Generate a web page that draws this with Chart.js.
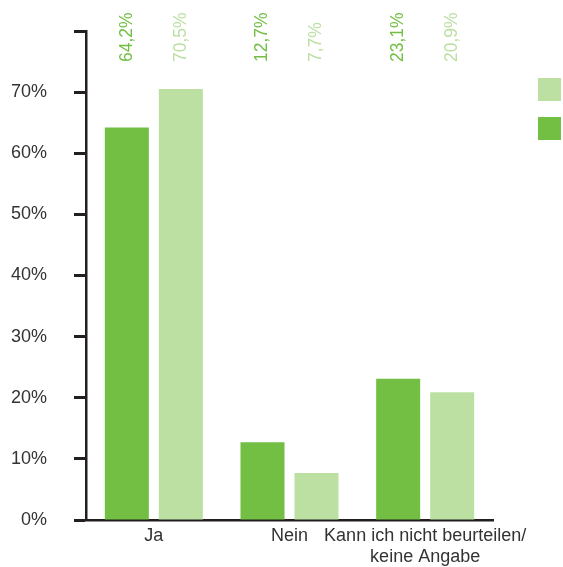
<!DOCTYPE html>
<html>
<head>
<meta charset="utf-8">
<script src="https://cdn.jsdelivr.net/npm/chart.js@4"></script>
<style>
  html, body { margin: 0; padding: 0; background: #ffffff; }
  #wrap { width: 563px; height: 567px; }
</style>
</head>
<body>
<div id="wrap"><canvas id="chart"></canvas></div>
<script>
// Chart data
const categories = ["Ja", "Nein", ["Kann ich nicht beurteilen/", "keine Angabe"]];
const seriesDark = [64.2, 12.7, 23.1];
const seriesLight = [70.5, 7.7, 20.9];
const yTicks = [0, 10, 20, 30, 40, 50, 60, 70, 80];

const DARK = "#72bf44";
const LIGHT = "#bcdfa2";
const AXIS = "#231f20";
const FONT = "'Liberation Sans', Arial, sans-serif";

// Rotated value labels above each bar, in the bar colour
const valueLabels = {
    id: "valueLabels",
    afterDatasetsDraw(chart) {
        const ctx = chart.ctx;
        const top = chart.chartArea.top + 31;
        chart.data.datasets.forEach((ds, di) => {
            const meta = chart.getDatasetMeta(di);
            meta.data.forEach((bar, i) => {
                ctx.save();
                ctx.translate(bar.x, top);
                ctx.rotate(-Math.PI / 2);
                ctx.font = "17.5px " + FONT;
                ctx.fillStyle = ds.backgroundColor;
                ctx.textAlign = "left";
                ctx.textBaseline = "middle";
                ctx.fillText(ds.data[i].toFixed(1).replace(".", ",") + "%", 0, 0);
                ctx.restore();
            });
        });
    }
};

// Legend squares at the right edge (their texts are cut off in the source)
const squareLegend = {
    id: "squareLegend",
    afterDraw(chart) {
        const ctx = chart.ctx;
        const x = chart.width - 25;
        const y = chart.chartArea.top + 47;
        const order = [1, 0];
        order.forEach((di, k) => {
            ctx.fillStyle = chart.data.datasets[di].backgroundColor;
            ctx.fillRect(x, y + k * 39, 23, 23);
        });
    }
};

new Chart(document.getElementById("chart"), {
    type: "bar",
    data: {
        labels: categories,
        datasets: [
            { label: "", data: seriesDark, backgroundColor: DARK },
            { label: "", data: seriesLight, backgroundColor: LIGHT }
        ]
    },
    options: {
        responsive: true,
        maintainAspectRatio: false,
        animation: false,
        layout: { padding: { top: 31, right: 70, bottom: 0, left: 0 } },
        datasets: { bar: { categoryPercentage: 0.796, barPercentage: 0.815 } },
        plugins: {
            legend: { display: false },
            tooltip: { enabled: false }
        },
        scales: {
            x: {
                grid: { display: false, drawTicks: false },
                border: { color: AXIS, width: 2.5 },
                ticks: { color: "#333333", font: { family: FONT, size: 18 }, padding: 5, maxRotation: 0, autoSkip: false },
                afterFit: s => { s.height = 47; }
            },
            y: {
                min: 0,
                max: 80,
                afterBuildTicks: s => { s.ticks = yTicks.map(v => ({ value: v })); },
                grid: { drawOnChartArea: false, drawTicks: true, tickLength: 12, tickWidth: 3, tickColor: AXIS },
                border: { color: AXIS, width: 2.5 },
                ticks: {
                    color: "#333333",
                    font: { family: FONT, size: 18 },
                    padding: 27,
                    callback: v => v === 80 ? "" : v + "%"
                },
                // fixed axis width; the top padding is already given by the layout
                afterFit: s => { s.width = 86; s.paddingTop = 0; }
            }
        }
    },
    plugins: [valueLabels, squareLegend]
});
</script>
</body>
</html>
